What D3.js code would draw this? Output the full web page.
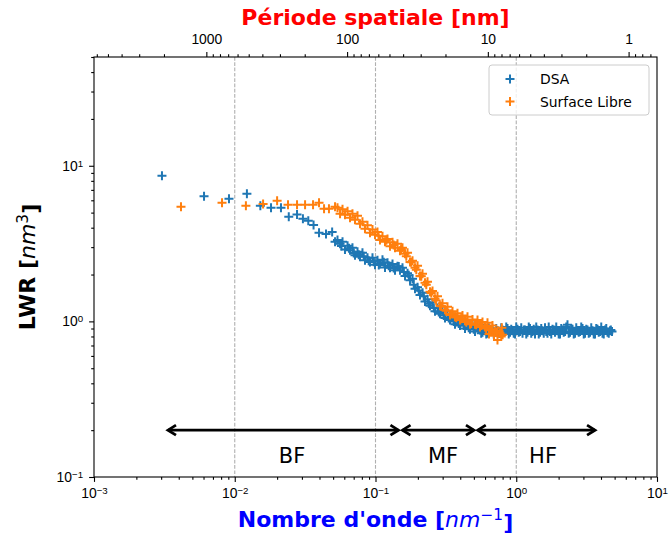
<!DOCTYPE html>
<html>
<head>
  <meta charset="UTF-8">
  <style>
    body {
      margin: 0;
      background: #fff;
      font-family: 'DejaVu Sans', sans-serif;
    }
    .tick-label { font-size: 13.9px; fill: #000; }
    .axis-title { font-size: 22px; font-weight: bold; }
    .band-label { font-size: 21px; fill: #000; }
    .legend-text { font-size: 13.9px; fill: #000; }
  </style>
  <script src="https://d3js.org/d3.v7.min.js"></script>
</head>
<body>
<svg id="chart" width="669" height="535"></svg>
<script>
// DSA series: wavenumber [nm^-1] and LWR [nm^3]
const dsaK = [0.00304, 0.00605, 0.0091, 0.0122, 0.0152, 0.0181, 0.0213, 0.0242, 0.0277, 0.0305, 0.0333, 0.0363, 0.0397, 0.0445, 0.0492,
  0.0516, 0.0537, 0.0560, 0.0583, 0.0607, 0.0633, 0.0659, 0.0686, 0.0715, 0.0745,
  0.0776, 0.0808, 0.0842, 0.0877, 0.0914, 0.0952, 0.0992, 0.1033, 0.1076, 0.1121,
  0.1168, 0.1217, 0.1268, 0.1321, 0.1376, 0.1433, 0.1493, 0.1555, 0.1621, 0.1689,
  0.1759, 0.1832, 0.1909, 0.1989, 0.2071, 0.2158, 0.2248, 0.2342, 0.2439, 0.2541,
  0.2647, 0.2757, 0.2872, 0.2992, 0.3117, 0.3247, 0.3383, 0.3524, 0.3671, 0.3824,
  0.3984, 0.4150, 0.4324, 0.4504, 0.4692, 0.4888, 0.5092, 0.5305,
  0.5526, 0.5756, 0.5997, 0.6247, 0.6508, 0.6779, 0.7063, 0.7357, 0.7665, 0.7984,
  0.8319, 0.8665, 0.9028, 0.9404, 0.9797, 1.0205, 1.063, 1.108, 1.154, 1.202,
  1.252, 1.304, 1.359, 1.416, 1.475, 1.536, 1.601, 1.667, 1.737, 1.809,
  1.885, 1.963, 2.046, 2.131, 2.220, 2.312, 2.410, 2.510, 2.615, 2.724,
  2.838, 2.956, 3.080, 3.208, 3.342, 3.481, 3.627, 3.778, 3.936, 4.100,
  4.272, 4.450, 4.636, 4.79,
  // scattered points in between
  0.0573, 0.0648, 0.0700, 0.0760, 0.0825, 0.0895, 0.0972, 0.1055, 0.1145, 0.1242,
  0.1348, 0.1463, 0.1588, 0.1724, 0.1870, 0.2029, 0.2202, 0.2390, 0.2594, 0.2815,
  0.3054, 0.3313, 0.3597, 0.3903, 0.4236, 0.4597, 0.4990, 0.5415,
  0.5640, 0.5875, 0.6121, 0.6376, 0.6642, 0.6919, 0.7208, 0.7509, 0.7823, 0.8149,
  0.8490, 0.8844, 0.9214, 0.9598, 0.9999, 1.0415, 1.085, 1.131, 1.178, 1.227,
  1.278, 1.331, 1.387, 1.445, 1.505, 1.568, 1.634, 1.701, 1.773, 1.846,
  1.924, 2.003, 2.088, 2.175, 2.266, 2.360, 2.460, 2.562, 2.669, 2.780,
  2.896, 3.017, 3.143, 3.274, 3.411, 3.553, 3.702, 3.856, 4.017, 4.184,
  4.360, 4.542, 4.700];
const dsaLwr = [8.63, 6.37, 6.14, 6.60, 5.53, 5.37, 5.37, 4.70, 4.87, 4.56, 4.43, 4.17, 3.71, 3.65, 3.76,
  3.25, 3.34, 3.15, 3.25, 2.90, 3.06, 2.86, 2.97, 2.66, 2.80,
  2.60, 2.76, 2.47, 2.56, 2.41, 2.56, 2.31, 2.47, 2.34, 2.49,
  2.22, 2.38, 2.21, 2.34, 2.13, 2.26, 2.13, 2.21, 1.96, 2.04,
  1.84, 1.88, 1.62, 1.66, 1.48, 1.53, 1.34, 1.39, 1.26, 1.32,
  1.16, 1.22, 1.12, 1.18, 1.05, 1.11, 1.02, 1.08, 0.96, 1.02,
  0.94, 1.00, 0.90, 0.96, 0.89, 0.95, 0.86, 0.92,
  0.88, 0.85, 0.87, 0.84, 0.86, 0.89, 0.85, 0.87, 0.84, 0.88,
  0.86, 0.90, 0.85, 0.87, 0.83, 0.89, 0.86, 0.84, 0.88, 0.85,
  0.90, 0.86, 0.83, 0.88, 0.85, 0.87, 0.91, 0.84, 0.86, 0.89,
  0.85, 0.87, 0.83, 0.88, 0.86, 0.95, 0.85, 0.89, 0.84, 0.87,
  0.86, 0.90, 0.84, 0.88, 0.85, 0.87, 0.83, 0.89, 0.86, 0.84,
  0.88, 0.85, 0.87, 0.86,
  3.05, 2.95, 2.75, 2.68, 2.62, 2.45, 2.42, 2.30, 2.40, 2.28,
  2.20, 2.25, 2.08, 1.98, 1.72, 1.58, 1.45, 1.30, 1.22, 1.15,
  1.09, 1.05, 1.00, 0.97, 0.94, 0.91, 0.89, 0.90,
  0.84, 0.90, 0.83, 0.91, 0.87, 0.83, 0.90, 0.84, 0.91, 0.85,
  0.92, 0.83, 0.89, 0.84, 0.92, 0.85, 0.91, 0.88, 0.83, 0.92,
  0.84, 0.89, 0.92, 0.83, 0.90, 0.84, 0.86, 0.92, 0.83, 0.88,
  0.92, 0.83, 0.90, 0.85, 0.92, 0.84, 0.90, 0.83, 0.91, 0.85,
  0.92, 0.83, 0.89, 0.84, 0.91, 0.83, 0.90, 0.85, 0.92, 0.83,
  0.90, 0.84, 0.88];

// Surface Libre series
const slK = [0.00415, 0.00812, 0.0120, 0.0159, 0.0200, 0.0239, 0.0277, 0.0316, 0.0360, 0.0397, 0.0431, 0.0467, 0.0516,
  0.0537, 0.0560, 0.0583, 0.0607, 0.0633, 0.0659, 0.0686, 0.0715, 0.0745, 0.0776,
  0.0808, 0.0842, 0.0877, 0.0914, 0.0952, 0.0992, 0.1033, 0.1076, 0.1121, 0.1168,
  0.1217, 0.1268, 0.1321, 0.1376, 0.1433, 0.1493, 0.1555, 0.1621, 0.1689, 0.1759,
  0.1832, 0.1909, 0.1989, 0.2071, 0.2158, 0.2248, 0.2342, 0.2439, 0.2541, 0.2647,
  0.2757, 0.2872, 0.2992, 0.3117, 0.3247, 0.3383, 0.3524, 0.3671, 0.3824, 0.3984,
  0.4150, 0.4324, 0.4504, 0.4692, 0.4888, 0.5092, 0.5305, 0.5526, 0.5756, 0.5997,
  0.6247, 0.6508, 0.6779, 0.7063, 0.7357, 0.7665, 0.790,
  0.695, 0.7357, 0.80, 0.64,
  0.1050, 0.1195, 0.1345, 0.1520, 0.1655, 0.1795, 0.1950, 0.2115, 0.2295, 0.2490,
  0.2700, 0.2930, 0.3180, 0.3450, 0.3745, 0.4065, 0.4410, 0.4785, 0.5190, 0.5635,
  0.6115, 0.6635, 0.7210, 0.7825];
const slLwr = [5.45, 5.78, 5.53, 5.69, 5.96, 5.61, 5.61, 5.61, 5.61, 5.78, 5.29, 5.29, 5.45,
  5.37, 4.91, 5.25, 4.84, 5.10, 4.63, 4.91, 4.50, 4.77, 4.24,
  4.36, 3.94, 4.14, 3.71, 3.90, 3.60, 3.76, 3.34, 3.52, 3.25,
  3.39, 3.04, 3.22, 2.97, 3.15, 2.84, 2.97, 2.72, 2.76, 2.41,
  2.45, 2.21, 2.28, 1.96, 2.02, 1.77, 1.80, 1.55, 1.57, 1.40,
  1.45, 1.26, 1.31, 1.19, 1.24, 1.10, 1.16, 1.07, 1.13, 1.02,
  1.09, 1.01, 1.07, 0.96, 1.03, 0.96, 1.02, 0.92, 0.99, 0.92,
  0.98, 0.88, 0.94, 0.86, 0.87, 0.84, 0.91,
  0.81, 0.76, 0.82, 0.83,
  3.55, 3.32, 3.10, 2.92, 2.62, 2.40, 2.15, 1.95, 1.72, 1.52,
  1.36, 1.25, 1.17, 1.12, 1.06, 1.04, 0.99, 0.97, 0.95, 0.94,
  0.90, 0.89, 0.85, 0.80];

const seriesNames = ['DSA', 'Surface Libre'];
const seriesColors = ['#1f77b4', '#ff7f0e'];

// frequency bands
const bandNames = ['BF', 'MF', 'HF'];
const bandFrom = [0.0033, 0.153, 0.524];
const bandTo = [0.148, 0.509, 3.69];
const bandLabelK = [0.0255, 0.302, 1.55];
const bandArrowLwr = 0.2;
const bandLabelLwr = 0.123;
const bandLimits = [0.01, 0.1, 1];

const xDomain = [1e-3, 10];
const yDomain = [0.1, 50];

// layout
const plotLeft = 94, plotRight = 657, plotTop = 57, plotBottom = 477;

const svg = d3.select('#chart');

const x = d3.scaleLog().domain(xDomain).range([plotLeft, plotRight]);
const y = d3.scaleLog().domain(yDomain).range([plotBottom, plotTop]);
// period = 2*pi / k (nm)
const p = d3.scaleLog().domain([2 * Math.PI / xDomain[0], 2 * Math.PI / xDomain[1]]).range([plotLeft, plotRight]);

const isMajor = v => Math.abs(Math.log10(v) - Math.round(Math.log10(v))) < 1e-9;

function supLabel(sel, anchor) {
  sel.each(function(d) {
    const t = d3.select(this).text(null).attr('text-anchor', anchor).attr('class', 'tick-label');
    const e = Math.round(Math.log10(d));
    t.append('tspan').text('10');
    t.append('tspan').attr('dy', '-0.42em').attr('font-size', '0.7em')
      .text(e < 0 ? '\u2212' + (-e) : String(e));
  });
}

// dashed band limits
svg.append('g').selectAll('line').data(bandLimits).join('line')
  .attr('x1', d => x(d)).attr('x2', d => x(d))
  .attr('y1', plotTop).attr('y2', plotBottom)
  .attr('stroke', '#b0b0b0').attr('stroke-width', 1.1)
  .attr('stroke-dasharray', '3.7,1.6');

// bottom axis
const xMinor = x.ticks().filter(v => !isMajor(v));
const xMajor = x.ticks().filter(isMajor);
svg.append('g').attr('transform', `translate(0,${plotBottom})`)
  .call(d3.axisBottom(x).tickValues(xMinor).tickSize(2.8).tickFormat(''))
  .call(g => g.select('.domain').remove());
svg.append('g').attr('transform', `translate(0,${plotBottom})`)
  .call(d3.axisBottom(x).tickValues(xMajor).tickSize(4.9).tickPadding(6))
  .call(g => g.select('.domain').remove())
  .call(g => supLabel(g.selectAll('.tick text'), 'middle'));

// left axis
const yMinor = y.ticks().filter(v => !isMajor(v));
const yMajor = y.ticks().filter(isMajor);
svg.append('g').attr('transform', `translate(${plotLeft},0)`)
  .call(d3.axisLeft(y).tickValues(yMinor).tickSize(2.8).tickFormat(''))
  .call(g => g.select('.domain').remove());
svg.append('g').attr('transform', `translate(${plotLeft},0)`)
  .call(d3.axisLeft(y).tickValues(yMajor).tickSize(4.9).tickPadding(6))
  .call(g => g.select('.domain').remove())
  .call(g => supLabel(g.selectAll('.tick text'), 'end'));

// top axis: spatial period
const pMinor = p.ticks().filter(v => !isMajor(v));
const pMajor = p.ticks().filter(isMajor);
svg.append('g').attr('transform', `translate(0,${plotTop})`)
  .call(d3.axisTop(p).tickValues(pMinor).tickSize(2.8).tickFormat(''))
  .call(g => g.select('.domain').remove());
svg.append('g').attr('transform', `translate(0,${plotTop})`)
  .call(d3.axisTop(p).tickValues(pMajor).tickSize(4.9).tickPadding(8).tickFormat(d3.format('d')))
  .call(g => g.select('.domain').remove())
  .call(g => g.selectAll('.tick text').attr('class', 'tick-label'));

svg.selectAll('.tick line').attr('stroke-width', 1.1);

// scatter markers
const plus = 'M-4.5,0H4.5M0,-4.5V4.5';
const series = [[dsaK, dsaLwr], [slK, slLwr]];
series.forEach(([ks, vs], i) => {
  svg.append('g').selectAll('path').data(ks).join('path')
    .attr('d', plus)
    .attr('transform', (k, j) => `translate(${x(k)},${y(vs[j])})`)
    .attr('stroke', seriesColors[i]).attr('stroke-width', 2).attr('fill', 'none');
});

// band arrows
const arrows = svg.append('g');
bandNames.forEach((name, i) => {
  const x0 = x(bandFrom[i]), x1 = x(bandTo[i]), ya = y(bandArrowLwr);
  arrows.append('line').attr('x1', x0 + 1).attr('x2', x1 - 1).attr('y1', ya).attr('y2', ya)
    .attr('stroke', '#000').attr('stroke-width', 2.8);
  arrows.append('path').attr('d', `M${x0 + 9},${ya - 5}L${x0 + 1},${ya}L${x0 + 9},${ya + 5}`)
    .attr('fill', 'none').attr('stroke', '#000').attr('stroke-width', 2.8).attr('stroke-linejoin', 'miter');
  arrows.append('path').attr('d', `M${x1 - 9},${ya - 5}L${x1 - 1},${ya}L${x1 - 9},${ya + 5}`)
    .attr('fill', 'none').attr('stroke', '#000').attr('stroke-width', 2.8).attr('stroke-linejoin', 'miter');
  arrows.append('text').attr('class', 'band-label')
    .attr('x', x(bandLabelK[i])).attr('y', y(bandLabelLwr))
    .attr('text-anchor', 'middle').text(name);
});

// frame
svg.append('rect').attr('x', plotLeft).attr('y', plotTop)
  .attr('width', plotRight - plotLeft).attr('height', plotBottom - plotTop)
  .attr('fill', 'none').attr('stroke', '#000').attr('stroke-width', 1.1);

// legend
const lg = svg.append('g').attr('transform', 'translate(489,65)');
lg.append('rect').attr('width', 160).attr('height', 50).attr('rx', 3)
  .attr('fill', '#fff').attr('fill-opacity', 0.8).attr('stroke', '#cccccc').attr('stroke-width', 1);
seriesNames.forEach((name, i) => {
  lg.append('path').attr('d', plus).attr('transform', `translate(21,${14 + i * 22.5})`)
    .attr('stroke', seriesColors[i]).attr('stroke-width', 2).attr('fill', 'none');
  lg.append('text').attr('class', 'legend-text').attr('x', 51).attr('y', 19 + i * 22.5).text(name);
});

// titles
svg.append('text').attr('class', 'axis-title').attr('fill', '#ff0000')
  .attr('x', (plotLeft + plotRight) / 2).attr('y', 25).attr('text-anchor', 'middle')
  .text('Période spatiale [nm]');

const xt = svg.append('text').attr('class', 'axis-title').attr('fill', '#0000ff')
  .attr('x', (plotLeft + plotRight) / 2).attr('y', 527).attr('text-anchor', 'middle');
xt.append('tspan').text("Nombre d'onde [");
xt.append('tspan').attr('font-style', 'italic').attr('font-weight', 'normal').text('nm');
xt.append('tspan').attr('dy', '-0.45em').attr('font-size', '0.7em').attr('font-weight', 'normal').text('\u22121');
xt.append('tspan').attr('dy', '0.45em').text(']');

const yt = svg.append('text').attr('class', 'axis-title').attr('fill', '#000')
  .attr('transform', `translate(35,${(plotTop + plotBottom) / 2}) rotate(-90)`).attr('text-anchor', 'middle');
yt.append('tspan').text('LWR [');
yt.append('tspan').attr('font-style', 'italic').attr('font-weight', 'normal').text('nm');
yt.append('tspan').attr('dy', '-0.45em').attr('font-size', '0.7em').attr('font-weight', 'normal').text('3');
yt.append('tspan').attr('dy', '0.45em').text(']');
</script>
</body>
</html>
